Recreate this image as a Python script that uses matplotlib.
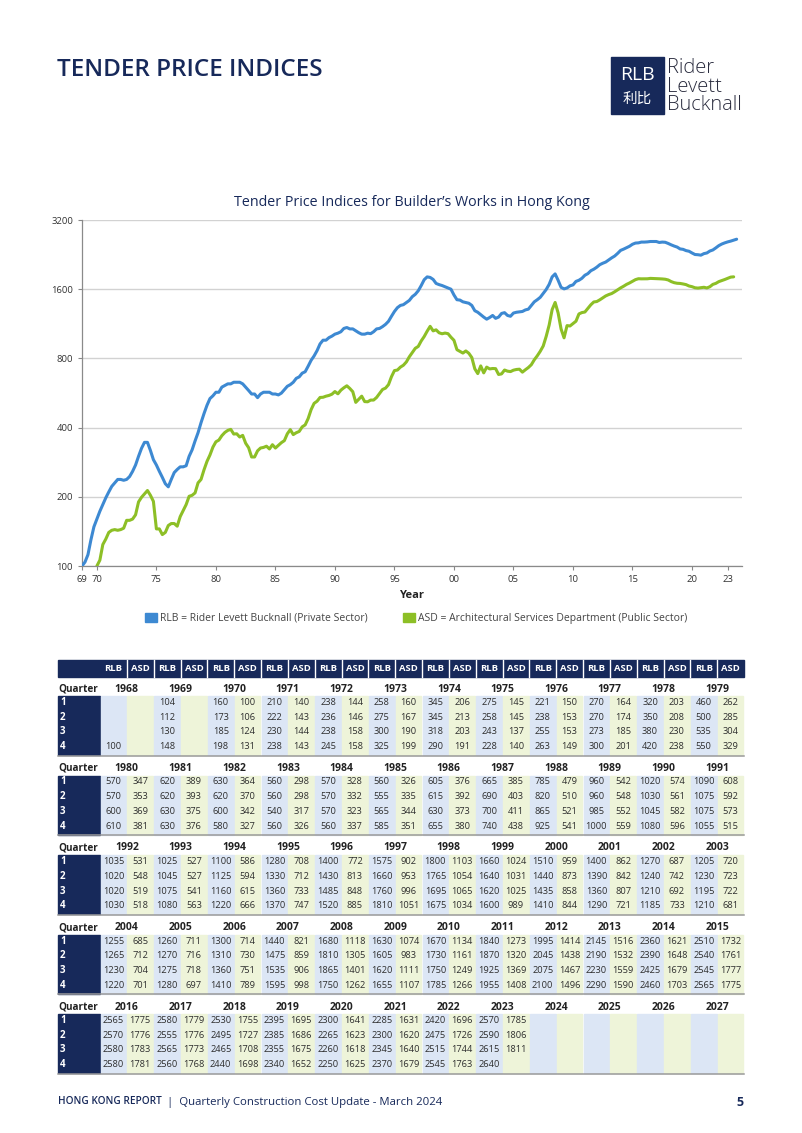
import matplotlib
matplotlib.use('Agg')
import matplotlib.pyplot as plt
from matplotlib.patches import Rectangle

plt.rcParams['font.family'] = ['Open Sans', 'Noto Sans CJK SC', 'DejaVu Sans']

NAVY = '#17295a'
BLUE = '#3d89d2'
GREEN = '#8dbf26'
CELL_BLUE = '#dce6f5'
CELL_GREEN = '#eef4d9'
TXT = '#2e2e2e'

# ---------------- data (quarterly values, Q1..Q4 per year) ----------------
years_1968_1979 = list(range(1968, 1980))
rlb_1968_1979 = [[None, None, None, 100], [104, 112, 130, 148], [160, 173, 185, 198],
                 [210, 222, 230, 238], [238, 236, 238, 245], [258, 275, 300, 325],
                 [345, 345, 318, 290], [275, 258, 243, 228], [221, 238, 255, 263],
                 [270, 270, 273, 300], [320, 350, 380, 420], [460, 500, 535, 550]]
asd_1968_1979 = [[None] * 4, [None] * 4, [100, 106, 124, 131],
                 [140, 143, 144, 143], [144, 146, 158, 158], [160, 167, 190, 199],
                 [206, 213, 203, 191], [145, 145, 137, 140], [150, 153, 153, 149],
                 [164, 174, 185, 201], [203, 208, 230, 238], [262, 285, 304, 329]]

years_1980_1991 = list(range(1980, 1992))
rlb_1980_1991 = [[570, 570, 600, 610], [620, 620, 630, 630], [630, 620, 600, 580],
                 [560, 560, 540, 560], [570, 570, 570, 560], [560, 555, 565, 585],
                 [605, 615, 630, 655], [665, 690, 700, 740], [785, 820, 865, 925],
                 [960, 960, 985, 1000], [1020, 1030, 1045, 1080], [1090, 1075, 1075, 1055]]
asd_1980_1991 = [[347, 353, 369, 381], [389, 393, 375, 376], [364, 370, 342, 327],
                 [298, 298, 317, 326], [328, 332, 323, 337], [326, 335, 344, 351],
                 [376, 392, 373, 380], [385, 403, 411, 438], [479, 510, 521, 541],
                 [542, 548, 552, 559], [574, 561, 582, 596], [608, 592, 573, 515]]

years_1992_2003 = list(range(1992, 2004))
rlb_1992_2003 = [[1035, 1020, 1020, 1030], [1025, 1045, 1075, 1080], [1100, 1125, 1160, 1220],
                 [1280, 1330, 1360, 1370], [1400, 1430, 1485, 1520], [1575, 1660, 1760, 1810],
                 [1800, 1765, 1695, 1675], [1660, 1640, 1620, 1600], [1510, 1440, 1435, 1410],
                 [1400, 1390, 1360, 1290], [1270, 1240, 1210, 1185], [1205, 1230, 1195, 1210]]
asd_1992_2003 = [[531, 548, 519, 518], [527, 527, 541, 563], [586, 594, 615, 666],
                 [708, 712, 733, 747], [772, 813, 848, 885], [902, 953, 996, 1051],
                 [1103, 1054, 1065, 1034], [1024, 1031, 1025, 989], [959, 873, 858, 844],
                 [862, 842, 807, 721], [687, 742, 692, 733], [720, 723, 722, 681]]

years_2004_2015 = list(range(2004, 2016))
rlb_2004_2015 = [[1255, 1265, 1230, 1220], [1260, 1270, 1275, 1280], [1300, 1310, 1360, 1410],
                 [1440, 1475, 1535, 1595], [1680, 1810, 1865, 1750], [1630, 1605, 1620, 1655],
                 [1670, 1730, 1750, 1785], [1840, 1870, 1925, 1955], [1995, 2045, 2075, 2100],
                 [2145, 2190, 2230, 2290], [2360, 2390, 2425, 2460], [2510, 2540, 2545, 2565]]
asd_2004_2015 = [[685, 712, 704, 701], [711, 716, 718, 697], [714, 730, 751, 789],
                 [821, 859, 906, 998], [1118, 1305, 1401, 1262], [1074, 983, 1111, 1107],
                 [1134, 1161, 1249, 1266], [1273, 1320, 1369, 1408], [1414, 1438, 1467, 1496],
                 [1516, 1532, 1559, 1590], [1621, 1648, 1679, 1703], [1732, 1761, 1777, 1775]]

years_2016_2027 = list(range(2016, 2028))
rlb_2016_2027 = [[2565, 2570, 2580, 2580], [2580, 2555, 2565, 2560], [2530, 2495, 2465, 2440],
                 [2395, 2385, 2355, 2340], [2300, 2265, 2260, 2250], [2285, 2300, 2345, 2370],
                 [2420, 2475, 2515, 2545], [2570, 2590, 2615, 2640],
                 [None] * 4, [None] * 4, [None] * 4, [None] * 4]
asd_2016_2027 = [[1775, 1776, 1783, 1781], [1779, 1776, 1773, 1768], [1755, 1727, 1708, 1698],
                 [1695, 1686, 1675, 1652], [1641, 1623, 1618, 1625], [1631, 1620, 1640, 1679],
                 [1696, 1726, 1744, 1763], [1785, 1806, 1811, None],
                 [None] * 4, [None] * 4, [None] * 4, [None] * 4]

x_tick_pos = [1968.75, 1970, 1975, 1980, 1985, 1990, 1995, 2000, 2005, 2010, 2015, 2020, 2023]
x_tick_lab = ['69', '70', '75', '80', '85', '90', '95', '00', '05', '10', '15', '20', '23']
y_ticks = [100, 200, 400, 800, 1600, 3200]

blocks = [(years_1968_1979, rlb_1968_1979, asd_1968_1979),
          (years_1980_1991, rlb_1980_1991, asd_1980_1991),
          (years_1992_2003, rlb_1992_2003, asd_1992_2003),
          (years_2004_2015, rlb_2004_2015, asd_2004_2015),
          (years_2016_2027, rlb_2016_2027, asd_2016_2027)]

rlb_x, rlb_y, asd_x, asd_y = [], [], [], []
for yrs, rlb, asd in blocks:
    for yr, rq, aq in zip(yrs, rlb, asd):
        for q in range(4):
            if rq[q] is not None:
                rlb_x.append(yr + q / 4); rlb_y.append(rq[q])
            if aq[q] is not None:
                asd_x.append(yr + q / 4); asd_y.append(aq[q])

# ---------------- figure ----------------
W, H = 802, 1133
fig = plt.figure(figsize=(W / 100, H / 100), dpi=100)
ov = fig.add_axes([0, 0, 1, 1])
ov.set_xlim(0, W); ov.set_ylim(H, 0); ov.axis('off')

# header
ov.text(57, 70, 'TENDER PRICE INDICES', fontsize=17.5, fontweight='semibold', color=NAVY,
        va='center', ha='left')
ov.add_patch(Rectangle((611, 57), 53, 57, color=NAVY))
ov.text(637.5, 75, 'RLB', fontsize=14, color='white', ha='center', va='center')
ov.text(637.5, 98.5, '利比', fontsize=10.5, color='white', ha='center', va='center',
        family=['Noto Sans CJK SC', 'DejaVu Sans'])
for t, yy in [('Rider', 68), ('Levett', 87), ('Bucknall', 105.5)]:
    ov.text(667, yy, t, fontsize=14.5, color='#2a2c3e', ha='left', va='center', fontweight='light')

ov.text(412, 202, 'Tender Price Indices for Builder’s Works in Hong Kong', fontsize=10.3,
        color=NAVY, ha='center', va='center', fontweight='medium')

# chart
ax = fig.add_axes([82 / W, 1 - 566 / H, 660 / W, 346 / H])
ax.plot(rlb_x, rlb_y, color=BLUE, lw=2.2, solid_capstyle='round', zorder=3)
ax.plot(asd_x, asd_y, color=GREEN, lw=2.2, solid_capstyle='round', zorder=3)
ax.set_yscale('log', base=2)
ax.set_ylim(100, 3200)
ax.set_xlim(1968.75, 2024.2)
ax.set_yticks(y_ticks)
ax.set_yticklabels([str(v) for v in y_ticks])
ax.yaxis.set_minor_locator(matplotlib.ticker.NullLocator())
ax.set_xticks(x_tick_pos)
ax.set_xticklabels(x_tick_lab)
ax.tick_params(axis='both', labelsize=6.8, colors='#888888', labelcolor='#333333', length=3, width=0.8)
ax.grid(axis='y', color='#d2d2d2', lw=1.0)
for s in ['top', 'right']:
    ax.spines[s].set_visible(False)
for s in ['left', 'bottom']:
    ax.spines[s].set_color('#8a8a8a'); ax.spines[s].set_linewidth(0.9)
ax.set_axisbelow(True)

ov.text(412, 596, 'Year', fontsize=8, fontweight='bold', color='#222222', ha='center', va='center')
ov.add_patch(Rectangle((145, 613), 12, 9, color=BLUE))
ov.text(160, 618, 'RLB = Rider Levett Bucknall (Private Sector)', fontsize=7.5, color='#444444',
        ha='left', va='center')
ov.add_patch(Rectangle((403, 613), 12, 9, color=GREEN))
ov.text(418, 618, 'ASD = Architectural Services Department (Public Sector)', fontsize=7.5,
        color='#444444', ha='left', va='center')

# table
L, R = 58, 744
cx0 = 100
cw = (R - cx0) / 24
ov.add_patch(Rectangle((L, 660), R - L, 17, color=NAVY))
for i in range(24):
    ov.text(cx0 + (i + 0.5) * cw, 668.8, 'RLB' if i % 2 == 0 else 'ASD', color='white',
            fontsize=6.8, fontweight='bold', ha='center', va='center')
    if i > 0:
        ov.plot([cx0 + i * cw] * 2, [660, 677], color='white', lw=1.0)

for k, (yrs, rlb, asd) in enumerate(blocks):
    T = 689 + 79.5 * k
    ov.text(L, T, 'Quarter', fontsize=7.2, fontweight='bold', color='#222222', ha='left', va='center')
    ov.add_patch(Rectangle((L, T + 7), cx0 - L, 59, color=NAVY))
    for r in range(4):
        ov.text(L + 2, T + 13.5 + 14.75 * r, str(r + 1), color='white', fontsize=7,
                fontweight='bold', ha='left', va='center')
    for j, yr in enumerate(yrs):
        ov.text(cx0 + (2 * j + 1) * cw, T, str(yr), fontsize=7.5, fontweight='bold',
                color='#222222', ha='center', va='center')
        for s, (vals, col) in enumerate([(rlb[j], CELL_BLUE), (asd[j], CELL_GREEN)]):
            x0 = cx0 + (2 * j + s) * cw
            ov.add_patch(Rectangle((x0 + 0.6, T + 7), cw - 1.2, 59, color=col))
            for r in range(4):
                if vals[r] is not None:
                    ov.text(x0 + cw / 2, T + 13.5 + 14.75 * r, str(vals[r]), fontsize=6.7,
                            color=TXT, ha='center', va='center')
    ov.plot([L, R], [T + 66.5, T + 66.5], color='#9a9a9a', lw=1.1)

# footer
t1 = ov.text(58, 1102, 'HONG KONG REPORT', fontsize=7.2, fontweight='semibold', color=NAVY,
             ha='left', va='center')
fig.canvas.draw()
bb = t1.get_window_extent(renderer=fig.canvas.get_renderer())
ov.text(bb.x1 + 5, 1102, '|  Quarterly Construction Cost Update - March 2024', fontsize=8.2,
        color=NAVY, ha='left', va='center')
ov.text(744, 1102, '5', fontsize=9, fontweight='bold', color=NAVY, ha='right', va='center')

fig.savefig('out.png', dpi=100)
